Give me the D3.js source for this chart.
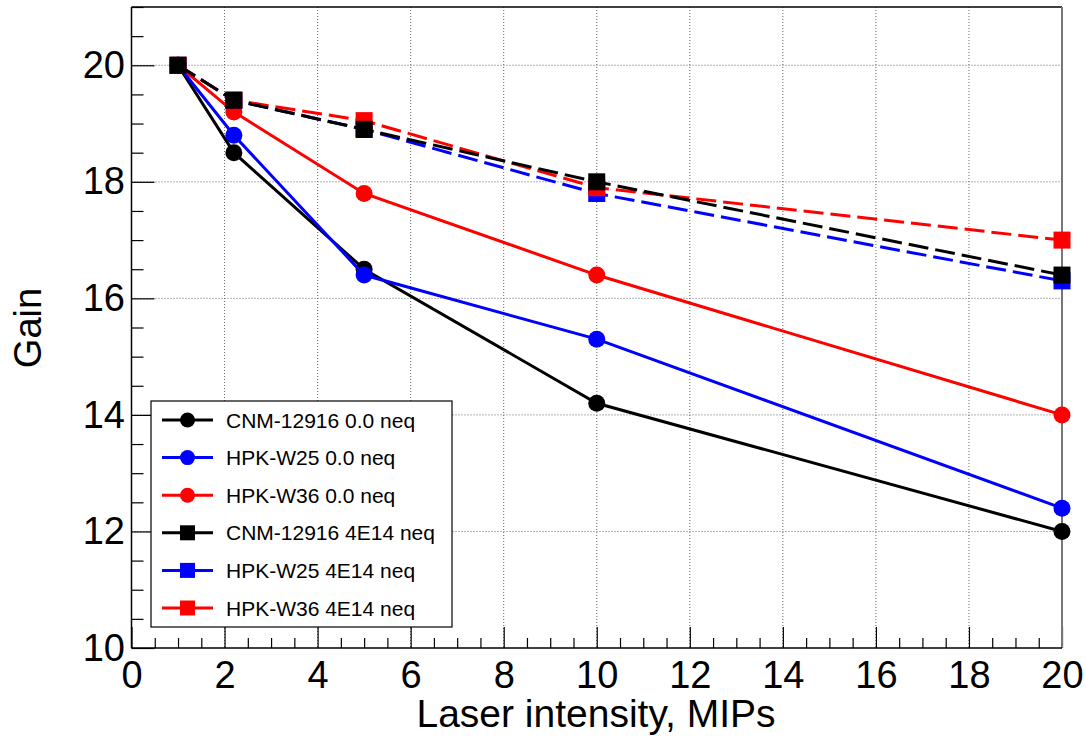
<!DOCTYPE html>
<html>
<head>
<meta charset="utf-8">
<script src="https://cdn.jsdelivr.net/npm/d3@7/dist/d3.min.js"></script>
<style>
  html, body { margin: 0; padding: 0; background: #fff; }
  svg { display: block; }
  text { font-family: "Liberation Sans", Arial, Helvetica, sans-serif; fill: #000; }
</style>
</head>
<body>
<svg id="chart" width="1086" height="737"></svg>
<script>
// ---- data ----
const intensities = [1, 2.2, 5, 10, 20];
const seriesNames = [
  "CNM-12916 0.0 neq", "HPK-W25 0.0 neq", "HPK-W36 0.0 neq",
  "CNM-12916 4E14 neq", "HPK-W25 4E14 neq", "HPK-W36 4E14 neq"
];
const cnm0   = [20, 18.5, 16.5, 14.2, 12.0];
const w25_0  = [20, 18.8, 16.4, 15.3, 12.4];
const w36_0  = [20, 19.2, 17.8, 16.4, 14.0];
const cnm4   = [20, 19.4, 18.9, 18.0, 16.4];
const w25_4  = [20, 19.4, 18.9, 17.8, 16.3];
const w36_4  = [20, 19.4, 19.05, 17.9, 17.0];
const seriesValues = [cnm0, w25_0, w36_0, cnm4, w25_4, w36_4];
const seriesColors = ["#000000", "#0000ff", "#ff0000", "#000000", "#0000ff", "#ff0000"];
const seriesMarker = ["circle", "circle", "circle", "square", "square", "square"];
const seriesDashed = [false, false, false, true, true, true];
const drawOrder = [0, 1, 2, 4, 5, 3];
const xTicks = [0, 2, 4, 6, 8, 10, 12, 14, 16, 18, 20];
const yTicks = [10, 12, 14, 16, 18, 20];
const xTitle = "Laser intensity, MIPs";
const yTitle = "Gain";

// ---- layout ----
const pL = 131.5, pR = 1062, pT = 7, pB = 648;
const svg = d3.select("#chart");
const x = d3.scaleLinear().domain([0, 20]).range([pL, pR]);
const y = d3.scaleLinear().domain([10, 21]).range([pB, pT]);

// grid
const grid = svg.append("g");
grid.selectAll(".gx").data(xTicks.filter(d => d > 0 && d < 20)).join("line")
  .attr("x1", d => x(d)).attr("x2", d => x(d)).attr("y1", pT).attr("y2", pB)
  .attr("stroke", "#666").attr("stroke-width", 1).attr("stroke-dasharray", "1,2");
grid.selectAll(".gy").data(yTicks.filter(d => d > 10)).join("line")
  .attr("x1", pL).attr("x2", pR).attr("y1", d => y(d)).attr("y2", d => y(d))
  .attr("stroke", "#666").attr("stroke-width", 1).attr("stroke-dasharray", "1,2");

// axes
const xMinor = d3.range(0, 20.01, 0.5).filter(v => Math.abs(v % 2) > 1e-6);
const yMinor = d3.range(10, 21.01, 0.5).filter(v => Math.abs(v % 2) > 1e-6);

const gx = svg.append("g").attr("transform", `translate(0,${pB})`)
  .call(d3.axisBottom(x).tickValues(xTicks).tickSize(-21).tickPadding(13).tickFormat(d3.format("d")));
const gxm = svg.append("g").attr("transform", `translate(0,${pB})`)
  .call(d3.axisBottom(x).tickValues(xMinor).tickSize(-10).tickFormat(""));
const gy = svg.append("g").attr("transform", `translate(${pL},0)`)
  .call(d3.axisLeft(y).tickValues(yTicks).tickSize(-23).tickPadding(6.5).tickFormat(d3.format("d")));
const gym = svg.append("g").attr("transform", `translate(${pL},0)`)
  .call(d3.axisLeft(y).tickValues(yMinor).tickSize(-12).tickFormat(""));
[gx, gxm, gy, gym].forEach(g => {
  g.select(".domain").remove();
  g.selectAll(".tick line").attr("stroke", "#000").attr("stroke-width", 1.2);
  g.selectAll("text").style("font-size", "38px").attr("fill", "#000");
});

// frame
svg.append("line").attr("x1", pL).attr("x2", pR).attr("y1", pT).attr("y2", pT).attr("stroke", "#000").attr("stroke-width", 1.5);
svg.append("line").attr("x1", pR).attr("x2", pR).attr("y1", pT).attr("y2", pB).attr("stroke", "#777").attr("stroke-width", 2);
svg.append("line").attr("x1", pL).attr("x2", pL).attr("y1", pT).attr("y2", pB).attr("stroke", "#000").attr("stroke-width", 1.5);
svg.append("line").attr("x1", pL).attr("x2", pR).attr("y1", pB).attr("y2", pB).attr("stroke", "#000").attr("stroke-width", 1.5);

// titles
svg.append("text").attr("x", 596).attr("y", 727).attr("text-anchor", "middle")
  .style("font-size", "39px").text(xTitle);
svg.append("text").attr("transform", "translate(41,328) rotate(-90)").attr("text-anchor", "middle")
  .style("font-size", "38px").text(yTitle);

// series
const line = d3.line().x((d, i) => x(intensities[i])).y(d => y(d));
const plot = svg.append("g");
function drawMarker(g, type, cx, cy, color, size) {
  if (type === "circle") {
    g.append("circle").attr("cx", cx).attr("cy", cy).attr("r", size / 2).attr("fill", color);
  } else {
    g.append("rect").attr("x", cx - size / 2).attr("y", cy - size / 2)
      .attr("width", size).attr("height", size).attr("fill", color);
  }
}
drawOrder.forEach(k => {
  const vals = seriesValues[k];
  const g = plot.append("g");
  g.append("path").attr("d", line(vals)).attr("fill", "none")
    .attr("stroke", seriesColors[k]).attr("stroke-width", 3)
    .attr("stroke-dasharray", seriesDashed[k] ? "20,7" : null);
  vals.forEach((v, i) => drawMarker(g, seriesMarker[k], x(intensities[i]), y(v), seriesColors[k], 17));
});

// legend
const lg = svg.append("g");
lg.append("rect").attr("x", 151).attr("y", 401).attr("width", 301).attr("height", 226)
  .attr("fill", "#fff").attr("stroke", "#000").attr("stroke-width", 1.2);
seriesNames.forEach((name, k) => {
  const cy = 420 + k * 37.6;
  lg.append("line").attr("x1", 162).attr("x2", 213).attr("y1", cy).attr("y2", cy)
    .attr("stroke", seriesColors[k]).attr("stroke-width", 3);
  drawMarker(lg, seriesMarker[k], 187.5, cy, seriesColors[k], 15);
  lg.append("text").attr("x", 226).attr("y", cy + 7.5).style("font-size", "21px").text(name);
});
</script>
</body>
</html>
